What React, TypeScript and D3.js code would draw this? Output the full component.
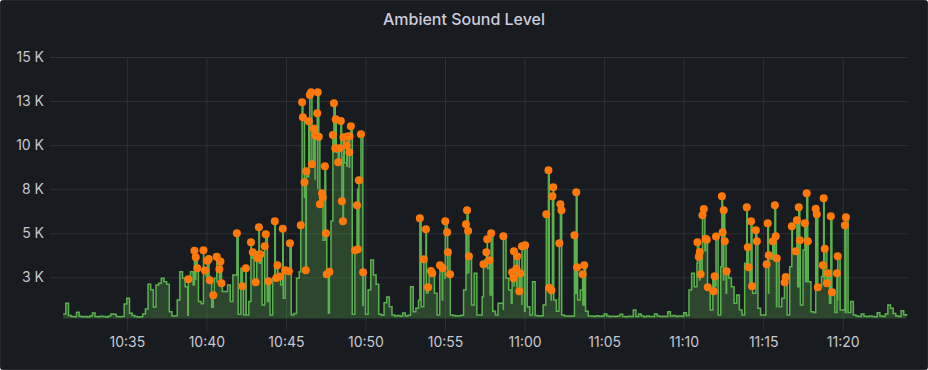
import React, { useRef, useEffect } from "react";
import * as d3 from "d3";

const W = 928;
const H = 370;

// sound level, one reading every 10 s starting 10:31:00
const levelValues = [
  420, 1030, 330, 280, 260, 520,
  290, 260, 270, 250, 300, 470,
  280, 260, 290, 270, 250, 300,
  420, 400, 280, 260, 270, 990,
  1310, 460, 330, 280, 250, 260,
  420, 700, 2100, 1800, 820, 2060,
  2160, 2450, 2250, 2100, 550, 300,
  320, 1210, 2820, 2450, 1970, 350,
  2820, 2060, 2350, 1120, 1000, 2820,
  2540, 2540, 800, 2450, 2250, 2400,
  1690, 1690, 2060, 1120, 2630, 2630,
  400, 3010, 360, 360, 1120, 3580,
  2060, 3950, 3300, 930, 3580, 1120,
  360, 2450, 2450, 2450, 2060, 1310,
  2820, 2820, 360, 450, 2450, 2820,
  5400, 7000, 8200, 9000, 8900, 8000,
  7500, 7000, 4600, 4600, 480, 5700,
  9600, 9600, 9300, 9300, 9000, 8800,
  8700, 400, 4100, 7500, 7900, 900,
  400, 1780, 3480, 2630, 2100, 400,
  350, 1060, 1380, 830, 360, 300,
  330, 290, 480, 300, 350, 1970,
  550, 740, 1200, 830, 2160, 1610,
  2630, 2630, 1590, 360, 2630, 1210,
  2450, 2630, 360, 330, 300, 320,
  350, 1780, 2730, 2730, 930, 2730,
  360, 360, 1400, 3480, 3000, 1500,
  570, 360, 1030, 1030, 650, 2450,
  1780, 1030, 1970, 1970, 1780, 930,
  570, 830, 360, 2250, 330, 300,
  320, 930, 1970, 1780, 1210, 1210,
  570, 1310, 360, 300, 310, 290,
  300, 1590, 1210, 1780, 930, 570,
  300, 300, 280, 320, 290, 300,
  420, 300, 280, 290, 270, 300,
  400, 280, 260, 290, 270, 650,
  280, 420, 300, 260, 300, 280,
  270, 420, 300, 280, 290, 270,
  550, 300, 330, 280, 300, 290,
  490, 330, 1780, 2730, 1970, 3300,
  2350, 4000, 4000, 1780, 650, 2500,
  2000, 360, 3100, 2350, 1590, 2460,
  1970, 1030, 1500, 650, 360, 3300,
  3300, 1970, 1590, 1590, 740, 360,
  360, 3100, 1590, 3520, 3520, 830,
  830, 1310, 2350, 360, 3100, 3950,
  3950, 1970, 930, 4050, 2250, 2250,
  550, 500, 1970, 1970, 2540, 2350,
  2350, 1030, 1780, 500, 1210, 650,
  650, 500, 500, 1120, 360, 300,
  280, 420, 290, 270, 300, 280,
  260, 490, 300, 280, 420, 930,
  740, 450, 300, 280, 600, 380,
  300,
];

// peak readings (seconds after 10:31:00) shown as points
const peakSeconds = [
  472, 495, 500, 506, 529, 535, 544, 549, 553, 566, 579, 589, 593, 597,
  655, 676, 689, 708, 715, 726, 734, 738, 744, 760, 764, 774, 798, 804, 808, 818, 828, 837, 851, 855,
  896, 901, 904, 910, 915, 917, 926, 930, 935, 938, 945, 950, 958, 960, 964, 968, 976, 979, 987, 991, 994, 1004,
  1017, 1021, 1026, 1028, 1037, 1041, 1047, 1051, 1055, 1057, 1069, 1072, 1079, 1080, 1085, 1101, 1108, 1111, 1115, 1123, 1131,
  1345, 1360, 1368, 1376, 1387, 1392, 1421, 1431, 1441, 1448, 1451, 1459, 1519, 1523, 1527, 1530,
  1585, 1596, 1599, 1607, 1614, 1660, 1693, 1698, 1700, 1709, 1712, 1720, 1724, 1730, 1742,
  1822, 1830, 1833, 1841, 1845, 1848, 1871, 1875, 1879, 1928, 1935, 1938, 1959, 1965,
  2392, 2397, 2401, 2404, 2411, 2416, 2423, 2427, 2431, 2453, 2457, 2462, 2484, 2487, 2491, 2495, 2502,
  2578, 2582, 2585, 2594, 2598, 2612, 2616, 2653, 2657, 2661, 2676, 2684, 2687, 2691, 2721, 2725,
  2748, 2763, 2767, 2774, 2778, 2797, 2804, 2808, 2838, 2842, 2846, 2865, 2868, 2872, 2880, 2884,
  2895, 2899, 2918, 2921, 2948, 2952,
];
const peakValues = [
  2390, 4010, 3640, 3010, 4030, 2880, 3440, 3540, 2330, 1480, 3670, 2960, 3400, 2160,
  5000, 1990, 3010, 4490, 3920, 2220, 3580, 5340, 3810, 4260, 4940, 2270, 5680, 2460, 3180, 2540, 5260, 2900, 2840, 4430,
  5450, 12430, 11580, 7890, 2900, 8520, 11350, 12840, 13000, 8910, 10950, 10560, 11810, 13000, 10480, 6640, 7270, 7040, 8800, 5000, 2670, 2820,
  10570, 12370, 9820, 11470, 9030, 9820, 11370, 6810, 5680, 10440, 9990, 10490, 9590, 10500, 11070, 4030, 6590, 4090, 8000, 10610, 2790,
  5850, 3520, 5220, 1930, 2860, 2730, 3180, 3030, 5680, 5060, 3920, 2670, 5510, 6300, 5130, 3690,
  3240, 3920, 4660, 3470, 5000, 4830, 2790, 2450, 3980, 2990, 3690, 1710, 2730, 4260, 4320,
  6080, 8570, 1910, 1760, 7100, 7610, 4430, 6640, 6300, 4880, 7320, 3070, 2670, 3180,
  4490, 3670, 3940, 2670, 6020, 6380, 4690, 4630, 1930, 1710, 2560, 4810, 7100, 5050, 6300, 4540, 2840,
  6470, 4200, 3070, 5680, 1990, 5170, 4540, 3240, 5570, 3750, 4540, 6590, 4830, 3580, 2220, 2520,
  5400, 3980, 5730, 6470, 4600, 5570, 7270, 4540, 6390, 6080, 1930, 3180, 6980, 4120, 2160, 2730,
  5960, 1650, 2730, 3690, 5450, 5910,
];

const yTickValues = [2500, 5000, 7500, 10000, 12500, 15000];
const yTickLabels = ["3 K", "5 K", "8 K", "10 K", "13 K", "15 K"];
const xTickTimes = ["10:35", "10:40", "10:45", "10:50", "10:55", "11:00", "11:05", "11:10", "11:15", "11:20"];

const FONT = "Inter, Roboto, 'DejaVu Sans', sans-serif";

const App = () => {
  const ref = useRef<SVGSVGElement>(null);

  useEffect(() => {
    const svg = d3.select(ref.current);
    svg.selectAll("*").remove();

    const start = new Date(2021, 0, 1, 10, 31, 0);
    const end = new Date(2021, 0, 1, 11, 24, 0);
    const at = (s: number) => new Date(start.getTime() + s * 1000);
    const parse = (hm: string) => {
      const [h, m] = hm.split(":").map(Number);
      return new Date(2021, 0, 1, h, m, 0);
    };

    const left = 63.2, right = 906.4, top = 57, bottom = 318.5;

    const x = d3.scaleTime().domain([start, end]).range([left, right]);
    const y = d3.scaleLinear().domain([162, 15000]).range([bottom, top]);

    svg.append("rect")
      .attr("x", 0.5).attr("y", 0.5)
      .attr("width", W - 1).attr("height", H - 1)
      .attr("rx", 2)
      .attr("fill", "#181b1f")
      .attr("stroke", "#25272c");

    svg.append("text")
      .attr("x", W / 2).attr("y", 24.5)
      .attr("text-anchor", "middle")
      .attr("font-family", FONT)
      .attr("font-size", 16)
      .attr("font-weight", 500)
      .attr("fill", "#ccccdc")
      .text("Ambient Sound Level");

    const gridColor = "#2e3135";

    const yAxis = svg.append("g")
      .attr("transform", "translate(50,0)")
      .call(
        d3.axisLeft(y)
          .tickValues(yTickValues)
          .tickFormat((d, i) => yTickLabels[i])
          .tickSize(-(907 - 50))
          .tickPadding(6)
      );
    yAxis.select(".domain").remove();
    yAxis.selectAll("line").attr("stroke", gridColor);
    yAxis.selectAll("text")
      .attr("font-family", FONT).attr("font-size", 14)
      .attr("fill", "#c7c7d2");

    const xAxis = svg.append("g")
      .attr("transform", "translate(0,331)")
      .call(
        d3.axisBottom(x)
          .tickValues(xTickTimes.map(parse))
          .tickFormat((d) => d3.timeFormat("%H:%M")(d as Date))
          .tickSize(-(331 - 57))
          .tickPadding(6)
      );
    xAxis.select(".domain").remove();
    xAxis.selectAll("line").attr("stroke", gridColor);
    xAxis.selectAll("text")
      .attr("font-family", FONT).attr("font-size", 14)
      .attr("fill", "#c7c7d2");

    const pts = levelValues
      .map((v, i) => ({ t: i * 10, v }))
      .concat(peakSeconds.map((t, i) => ({ t, v: peakValues[i] })))
      .sort((a, b) => a.t - b.t);

    const area = d3.area<{ t: number; v: number }>()
      .x((d) => x(at(d.t)))
      .y0(bottom)
      .y1((d) => y(d.v))
      .curve(d3.curveStepAfter);
    const line = d3.line<{ t: number; v: number }>()
      .x((d) => x(at(d.t)))
      .y((d) => y(d.v))
      .curve(d3.curveStepAfter);

    svg.append("path")
      .datum(pts)
      .attr("d", area)
      .attr("fill", "#56a64b")
      .attr("fill-opacity", 0.32);
    svg.append("path")
      .datum(pts)
      .attr("d", line)
      .attr("fill", "none")
      .attr("stroke", "#5cb14f")
      .attr("stroke-width", 1.5);

    svg.selectAll(".peak")
      .data(peakSeconds)
      .enter()
      .append("circle")
      .attr("class", "peak")
      .attr("cx", (t) => x(at(t)))
      .attr("cy", (t, i) => y(peakValues[i]))
      .attr("r", 4)
      .attr("fill", "#ff780a");
  }, []);

  return (
    <svg
      ref={ref}
      width={W}
      height={H}
      style={{ position: "absolute", left: 0, top: 0, display: "block" }}
    />
  );
};

export default App;
